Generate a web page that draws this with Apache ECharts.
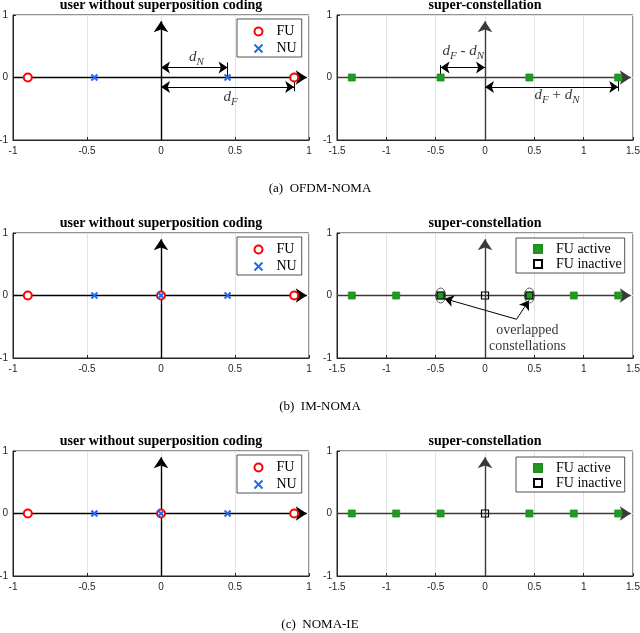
<!DOCTYPE html>
<html>
<head>
<meta charset="utf-8">
<script src="https://cdn.jsdelivr.net/npm/echarts@6/dist/echarts.min.js"></script>
<style>
html, body { margin: 0; padding: 0; background: #fff; }
#chart { width: 640px; height: 633px; }
</style>
</head>
<body>
<div id="chart"></div>
<script>
// constellation points (real axis, imaginary part 0)
const fuA = [-0.9, 0.9];
const nuA = [-0.45, 0.45];
const superA = [-1.35, -0.45, 0.45, 1.35];

const fuB = [-0.9, 0, 0.9];
const nuB = [-0.45, 0, 0.45];
const activeB = [-1.35, -0.9, -0.45, 0.45, 0.9, 1.35];
const inactiveB = [-0.45, 0, 0.45];
const overlapB = [-0.45, 0.45];

const fuC = [-0.9, 0, 0.9];
const nuC = [-0.45, 0, 0.45];
const activeC = [-1.35, -0.9, -0.45, 0.45, 0.9, 1.35];
const inactiveC = [0];

const leftTitle = 'user without superposition coding';
const rightTitle = 'super-constellation';
const captions = ['(a)  OFDM-NOMA', '(b)  IM-NOMA', '(c)  NOMA-IE'];

// distance annotations of panel (a)
const dArrowsLeft = [[0, 0.16, 0.45, 0.16], [0, -0.15, 0.9, -0.15]];
const dTicksLeft = [[0.45, 0.24, 0.45, 0], [0.9, 0, 0.9, -0.22]];
const dArrowsRight = [[-0.45, 0.16, 0, 0.16], [0, -0.15, 1.35, -0.15]];
const dTicksRight = [[-0.45, 0.2, -0.45, 0], [1.35, 0, 1.35, -0.22]];
const dLabelsLeft = [[0.24, 0.3, '{d|d}{s|N}'], [0.47, -0.33, '{d|d}{s|F}']];
const dLabelsRight = [[-0.22, 0.4, '{d|d}{s|F}{t| - }{d|d}{s|N}'], [0.73, -0.3, '{d|d}{s|F}{t| + }{d|d}{s|N}']];
const overlapArrows = [[0.32, -0.38, -0.41, -0.05], [0.32, -0.38, 0.445, -0.08]];
const overlapText = [0.43, -0.68, 'overlapped\nconstellations'];

const gridLefts = [13, 337];
const gridTops = [15, 233, 451];
const plotW = 296, plotH = 125;

const RED = '#ff0000', BLUE = '#1f6cf2', GREEN = '#219a21', AXC = '#262626';
const serif = 'Liberation Serif', sans = 'Liberation Sans';

const grids = [], xAxes = [], yAxes = [], titles = [], series = [];
for (let r = 0; r < 3; r++) {
  for (let c = 0; c < 2; c++) {
    const i = r * 2 + c;
    grids.push({ left: gridLefts[c], top: gridTops[r], width: plotW, height: plotH,
      outerBoundsMode: 'none', containLabel: false,
      show: true, borderColor: AXC, borderWidth: 1, backgroundColor: '#fff' });
    const lim = c === 0 ? 1 : 1.5;
    xAxes.push({ gridIndex: i, type: 'value', min: -lim, max: lim, interval: 0.5,
      axisLine: { onZero: false, lineStyle: { color: AXC } },
      axisTick: { inside: true, length: 3, lineStyle: { color: AXC } },
      axisLabel: { color: AXC, fontFamily: sans, fontSize: 10, margin: 6 },
      splitLine: { lineStyle: { color: '#e3e3e3', width: 1 } } });
    yAxes.push({ gridIndex: i, type: 'value', min: -1, max: 1, interval: 1,
      axisLine: { onZero: false, lineStyle: { color: AXC } },
      axisTick: { inside: true, length: 3, lineStyle: { color: AXC } },
      axisLabel: { color: AXC, fontFamily: sans, fontSize: 10, margin: 5 },
      splitLine: { lineStyle: { color: '#e3e3e3', width: 1 } } });
    titles.push({ text: c === 0 ? leftTitle : rightTitle, left: gridLefts[c] + plotW / 2,
      top: gridTops[r] - 17, textAlign: 'center', padding: 0,
      textStyle: { fontFamily: serif, fontWeight: 'bold', fontSize: 14, color: '#000' } });
    // axes with arrows through origin
    series.push({ type: 'scatter', name: 'axes' + i, xAxisIndex: i, yAxisIndex: i, data: [], z: 1,
      silent: true,
      markLine: { silent: true, animation: false, symbolSize: 11,
        lineStyle: { type: 'solid', color: c === 0 ? '#000' : '#3a3a3a', width: 1.4 }, label: { show: false },
        data: [
          [{ coord: [-lim, 0], symbol: 'none' }, { coord: [lim * 0.985, 0], symbol: 'arrow' }],
          [{ coord: [0, -1], symbol: 'none' }, { coord: [0, 0.9], symbol: 'arrow' }]
        ] } });
  }
}
captions.forEach((t, r) => {
  titles.push({ text: t, left: 320, top: gridTops[r] + plotH + 42, textAlign: 'center', padding: 0,
    textStyle: { fontFamily: serif, fontWeight: 'normal', fontSize: 13, color: '#000' } });
});

const pts = arr => arr.map(x => [x, 0]);
const fuStyle = { symbol: 'circle', symbolSize: 8, itemStyle: { color: '#fff', borderColor: RED, borderWidth: 2, opacity: 1 } };
const nuStyle = { symbol: 'path://M0,0L10,10M0,10L10,0', symbolSize: 6, itemStyle: { color: 'none', borderColor: BLUE, borderWidth: 2, opacity: 1 } };
const actStyle = { symbol: 'rect', symbolSize: 7, itemStyle: { color: GREEN, borderColor: '#1f8f1f', borderWidth: 0.8, opacity: 1 } };
const inStyle = { symbol: 'rect', symbolSize: 7, itemStyle: { color: 'rgba(255,255,255,0)', borderColor: '#000', borderWidth: 1.2, opacity: 1 } };

function sc(name, idx, data, style, z) {
  return Object.assign({ type: 'scatter', name: name, xAxisIndex: idx, yAxisIndex: idx,
    data: pts(data), z: z || 5, silent: true }, style);
}
function segs(list, a, b) {
  return list.map(s => [{ coord: [s[0], s[1]], symbol: a }, { coord: [s[2], s[3]], symbol: b }]);
}
const rich = {
  d: { fontFamily: serif, fontStyle: 'italic', fontSize: 15, color: '#000', verticalAlign: 'top', lineHeight: 18 },
  s: { fontFamily: serif, fontStyle: 'italic', fontSize: 11, color: '#000', verticalAlign: 'bottom', lineHeight: 18 },
  t: { fontFamily: serif, fontSize: 15, color: '#000', verticalAlign: 'top', lineHeight: 18 }
};
function labels(idx, list) {
  return { type: 'scatter', name: 'lab' + idx, xAxisIndex: idx, yAxisIndex: idx, symbolSize: 0, z: 6,
    silent: true,
    data: list.map(p => ({ value: [p[0], p[1]], label: { show: true, position: 'inside', formatter: p[2], rich: rich } })) };
}
function annot(idx, arrows, ticks) {
  return { type: 'scatter', name: 'ann' + idx, xAxisIndex: idx, yAxisIndex: idx, data: [], z: 2, silent: true,
    markLine: { silent: true, animation: false, symbolSize: 9,
      lineStyle: { type: 'solid', color: '#000', width: 1 }, label: { show: false },
      data: segs(arrows, 'arrow', 'arrow').concat(segs(ticks, 'none', 'none')) } };
}

// panel (a)
series.push(sc('FU', 0, fuA, fuStyle), sc('NU', 0, nuA, nuStyle, 6));
series.push(annot(0, dArrowsLeft, dTicksLeft), labels(0, dLabelsLeft));
series.push(sc('super', 1, superA, actStyle));
series.push(annot(1, dArrowsRight, dTicksRight), labels(1, dLabelsRight));
// panel (b)
series.push(sc('FU', 2, fuB, fuStyle), sc('NU', 2, nuB, nuStyle, 6));
series.push(sc('FU active', 3, activeB, actStyle), sc('FU inactive', 3, inactiveB, inStyle, 6));
series.push({ type: 'scatter', name: 'ellipse', xAxisIndex: 3, yAxisIndex: 3, data: pts(overlapB), z: 7,
  silent: true, symbol: 'circle', symbolSize: [10, 15],
  itemStyle: { color: 'rgba(255,255,255,0)', borderColor: '#333', borderWidth: 0.8, opacity: 1 } });
series.push({ type: 'scatter', name: 'ovl', xAxisIndex: 3, yAxisIndex: 3, data: [], z: 8, silent: true,
  markLine: { silent: true, animation: false, symbolSize: 9,
    lineStyle: { type: 'solid', color: '#000', width: 1 }, label: { show: false },
    data: segs(overlapArrows, 'none', 'arrow') } });
series.push({ type: 'scatter', name: 'ovlText', xAxisIndex: 3, yAxisIndex: 3, symbolSize: 0, z: 8, silent: true,
  data: [{ value: [overlapText[0], overlapText[1]], label: { show: true, position: 'inside', formatter: overlapText[2],
    fontFamily: serif, fontSize: 14, color: '#000', lineHeight: 16 } }] });
// panel (c)
series.push(sc('FU', 4, fuC, fuStyle), sc('NU', 4, nuC, nuStyle, 6));
series.push(sc('FU active', 5, activeC, actStyle), sc('FU inactive', 5, inactiveC, inStyle, 6));

function legend(left, top, names, pad, gap, lh) {
  return { left: left, top: top, orient: 'vertical', data: names, selectedMode: false,
    backgroundColor: '#fff', borderColor: AXC, borderWidth: 0.8, padding: pad,
    itemWidth: 8, itemHeight: 8, itemGap: gap,
    textStyle: { fontFamily: serif, fontSize: 14, color: '#000', lineHeight: lh, padding: [0, 0, 0, 9] } };
}
const legends = [
  legend(237, 19, ['FU', 'NU'], [5, 5, 1, 15], 2, 15),
  legend(237, 237, ['FU', 'NU'], [5, 5, 1, 15], 2, 15),
  legend(237, 455, ['FU', 'NU'], [5, 5, 1, 15], 2, 15),
  legend(516, 238, ['FU active', 'FU inactive'], [4, 3, 2, 17], 1, 14),
  legend(516, 457, ['FU active', 'FU inactive'], [4, 3, 2, 17], 1, 14)
];

const chart = echarts.init(document.getElementById('chart'), null, { renderer: 'canvas' });
chart.setOption({
  animation: false,
  backgroundColor: '#fff',
  title: titles,
  legend: legends,
  grid: grids,
  xAxis: xAxes,
  yAxis: yAxes,
  series: series
});
</script>
</body>
</html>
